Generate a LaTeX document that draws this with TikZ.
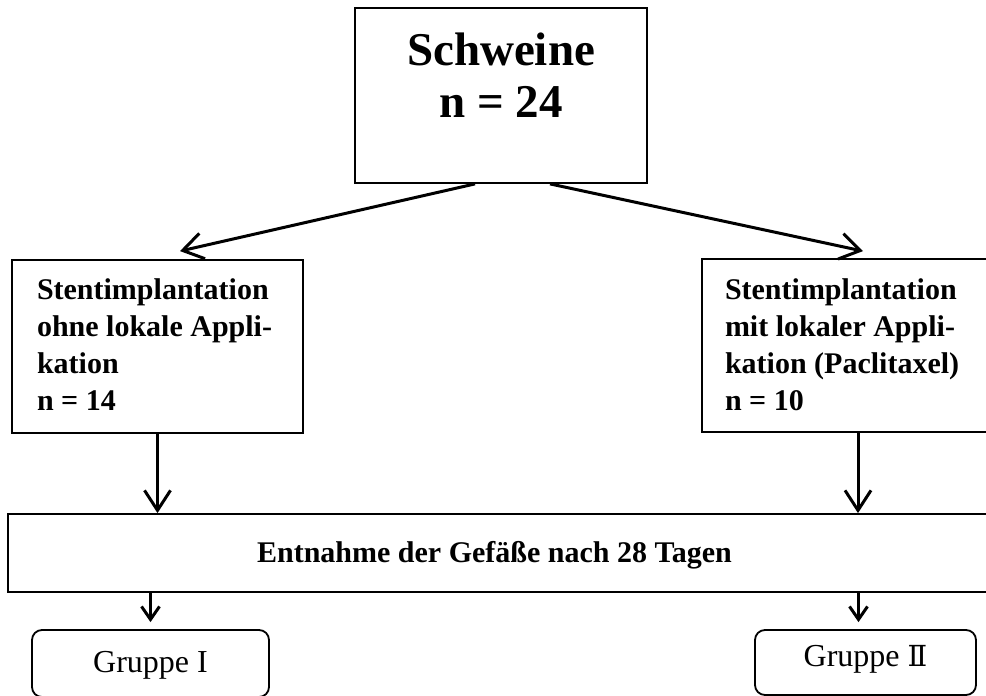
\documentclass[tikz,border=0pt]{standalone}
\usepackage{fontspec}
\setmainfont{Liberation Serif}
\newfontfamily\roemisch{DejaVu Serif}
\usetikzlibrary{arrows.meta}

\tikzset{
	box/.style={draw=black, line width=1.8pt, inner sep=0pt},
	stentbox/.style={box, align=flush left, minimum height=173pt, text height=20pt,
		font=\bfseries\fontsize{30pt}{37pt}\selectfont},
	gruppe/.style={box, rounded corners=10pt, font=\fontsize{32pt}{36pt}\selectfont},
	pfeil/.style={line width=3pt, -{Straight Barb[length=20pt,width=26pt]}},
	pfeilklein/.style={line width=3pt, -{Straight Barb[length=13pt,width=18pt]}}
}

\begin{document}
\begin{tikzpicture}[x=1pt,y=-1pt]
	\useasboundingbox (0,0) rectangle (986,696);
	\clip (0,0) rectangle (986,696);
	% boxes
	\node [box, minimum width=292pt, minimum height=175pt, align=center, text height=85pt, text depth=42pt,
		font=\bfseries\fontsize{47pt}{52pt}\selectfont] (schweine) at (501,95.5) {Schweine\\n = 24};
	\node [stentbox, text width=241pt, inner xsep=25pt, text depth=115pt] (ohne) at (157.5,346.5)
		{Stentimplantation\\ohne lokale Appli-\\kation\\n = 14};
	\node [stentbox, text width=248pt, inner xsep=23pt, text depth=113pt] (mit) at (849,345.5)
		{Stentimplantation\\mit lokaler Appli-\\kation (Paclitaxel)\\n = 10};
	\node [box, minimum width=987pt, minimum height=78pt, text height=22pt, text depth=4pt,
		font=\bfseries\fontsize{30pt}{37pt}\selectfont] (entnahme) at (501.5,553)
		{\hspace*{-14pt}Entnahme der Gefäße nach 28 Tagen};
	\node [gruppe, minimum width=237pt, minimum height=67pt, text height=22pt, text depth=5pt] (gruppeA) at (150.5,663.5) {Gruppe I};
	\node [gruppe, minimum width=221pt, minimum height=65pt, text height=20pt, text depth=13pt] (gruppeB) at (865.5,662.5) {Gruppe {\roemisch\fontsize{29pt}{36pt}\selectfont Ⅱ}};

	% schweine
	\draw [pfeil] ([xshift=-26pt]schweine.south) -- ([xshift=22.5pt,yshift=8pt]ohne.north);
	\draw [pfeil] ([xshift=49pt]schweine.south) -- ([xshift=14pt,yshift=7pt]mit.north);
	% ohne / mit
	\coordinate (mitfuss) at ([xshift=9pt]mit.south);
	\draw [pfeil] (ohne.south) -- (ohne.south |- entnahme.north);
	\draw [pfeil] (mitfuss) -- (mitfuss |- entnahme.north);
	% entnahme
	\coordinate (gruppeBkopf) at ([xshift=-7pt]gruppeB.north);
	\draw [pfeilklein] (entnahme.south -| gruppeA.north) -- ([yshift=7pt]gruppeA.north);
	\draw [pfeilklein] (entnahme.south -| gruppeBkopf) -- ([yshift=7pt]gruppeBkopf);
\end{tikzpicture}
\end{document}
